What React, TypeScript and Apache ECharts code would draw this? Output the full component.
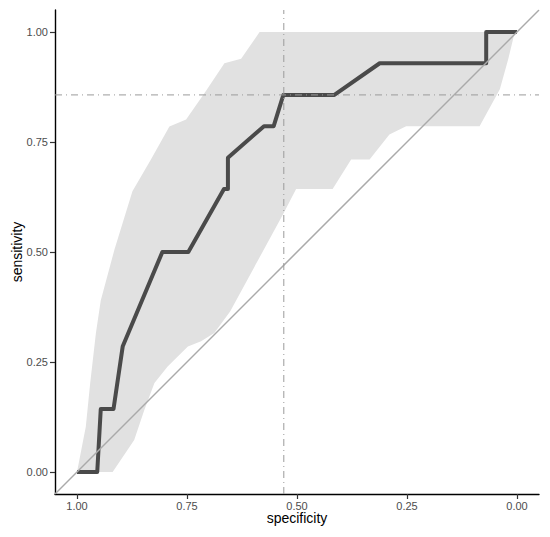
import React, { useEffect, useRef } from "react";
import * as echarts from "echarts";

// Axis ticks
const tickValues = [0, 0.25, 0.5, 0.75, 1];

// ROC curve (specificity, sensitivity)
const rocSpecificity = [1.0, 0.954, 0.946, 0.917, 0.896, 0.806, 0.747, 0.666, 0.657, 0.657, 0.575, 0.553, 0.531, 0.415, 0.312, 0.07, 0.07, 0.0];
const rocSensitivity = [0.0, 0.0, 0.143, 0.143, 0.286, 0.5, 0.5, 0.643, 0.643, 0.714, 0.786, 0.786, 0.857, 0.857, 0.929, 0.929, 1.0, 1.0];

// Confidence band: upper edge (left to top-right)
const ciUpperSpec = [1.0, 0.98, 0.97, 0.957, 0.946, 0.915, 0.874, 0.832, 0.79, 0.752, 0.707, 0.665, 0.627, 0.585, 0.005, 0.02, 0.039, 0.085];
const ciUpperSens = [0.0, 0.103, 0.202, 0.316, 0.39, 0.505, 0.638, 0.71, 0.785, 0.801, 0.866, 0.929, 0.939, 1.0, 1.0, 0.938, 0.87, 0.786];
// Confidence band: lower edge (top-right back to bottom)
const ciLowerSpec = [0.252, 0.29, 0.335, 0.377, 0.419, 0.502, 0.532, 0.652, 0.688, 0.718, 0.748, 0.794, 0.824, 0.847, 0.87, 0.919];
const ciLowerSens = [0.786, 0.767, 0.71, 0.71, 0.643, 0.643, 0.585, 0.365, 0.316, 0.297, 0.285, 0.24, 0.202, 0.141, 0.073, 0.0];

// Best threshold reference lines
const bestSpecificity = 0.53;
const bestSensitivity = 0.857;

// Axis range
const axisMin = -0.05;
const axisMax = 1.05;

export default function App() {
  const ref = useRef<HTMLDivElement>(null);

  useEffect(() => {
    document.body.style.margin = "0";
    if (!ref.current) return;
    const chart = echarts.init(ref.current, undefined, { renderer: "svg" });

    const rocData = rocSpecificity.map((s, i) => [s, rocSensitivity[i]]);
    const bandData = [
      ...ciUpperSpec.map((s, i) => [s, ciUpperSens[i]]),
      ...ciLowerSpec.map((s, i) => [s, ciLowerSens[i]]),
    ];

    const font = "'Liberation Sans', Arial, Helvetica, sans-serif";

    chart.setOption({
      animation: false,
      grid: { left: 55, right: 11, top: 10, bottom: 43, containLabel: false, outerBoundsMode: "none" },
      xAxis: {
        type: "value",
        min: axisMin,
        max: axisMax,
        inverse: true,
        name: "specificity",
        nameLocation: "middle",
        nameGap: 17,
        nameMoveOverlap: false,
        nameTextStyle: { color: "#000", fontSize: 14, fontFamily: font },
        axisLine: { onZero: false, lineStyle: { color: "#000", width: 1.4 } },
        axisTick: { length: 5, customValues: tickValues, lineStyle: { color: "#333", width: 1.2 } },
        axisLabel: {
          customValues: tickValues,
          formatter: (v: number) => v.toFixed(2),
          color: "#4d4d4d",
          fontSize: 11,
          fontFamily: font,
          margin: 6,
        },
        splitLine: { show: false },
      },
      yAxis: {
        type: "value",
        min: axisMin,
        max: axisMax,
        name: "sensitivity",
        nameLocation: "middle",
        nameGap: 31,
        nameMoveOverlap: false,
        nameTextStyle: { color: "#000", fontSize: 14, fontFamily: font },
        axisLine: { onZero: false, lineStyle: { color: "#000", width: 1.4 } },
        axisTick: { length: 5, customValues: tickValues, lineStyle: { color: "#333", width: 1.2 } },
        axisLabel: {
          customValues: tickValues,
          formatter: (v: number) => v.toFixed(2),
          color: "#4d4d4d",
          fontSize: 11,
          fontFamily: font,
          margin: 7,
        },
        splitLine: { show: false },
      },
      series: [
        {
          type: "custom",
          data: bandData,
          clip: true,
          silent: true,
          renderItem: (params: any, api: any) => {
            if (params.dataIndex !== 0) return null;
            const pts = bandData.map((p) => api.coord(p));
            return {
              type: "polygon",
              shape: { points: pts },
              style: { fill: "#e1e1e1", stroke: "none" },
            };
          },
          z: 1,
        },
        {
          type: "line",
          data: rocData,
          showSymbol: false,
          symbol: "none",
          lineStyle: { color: "#4a4a4a", width: 4, join: "round" },
          z: 2,
        },
        {
          type: "line",
          data: [[axisMax, axisMin], [axisMin, axisMax]],
          showSymbol: false,
          symbol: "none",
          lineStyle: { color: "#aaaaaa", width: 1.5 },
          z: 3,
        },
        {
          type: "line",
          data: [[bestSpecificity, axisMin], [bestSpecificity, axisMax]],
          showSymbol: false,
          symbol: "none",
          lineStyle: { color: "#9a9a9a", width: 1, type: [7, 4, 1, 4] },
          z: 4,
        },
        {
          type: "line",
          data: [[axisMax, bestSensitivity], [axisMin, bestSensitivity]],
          showSymbol: false,
          symbol: "none",
          lineStyle: { color: "#9a9a9a", width: 1, type: [7, 4, 1, 4] },
          z: 4,
        },
      ],
    });

    return () => chart.dispose();
  }, []);

  return <div ref={ref} style={{ width: 550, height: 537 }} />;
}
